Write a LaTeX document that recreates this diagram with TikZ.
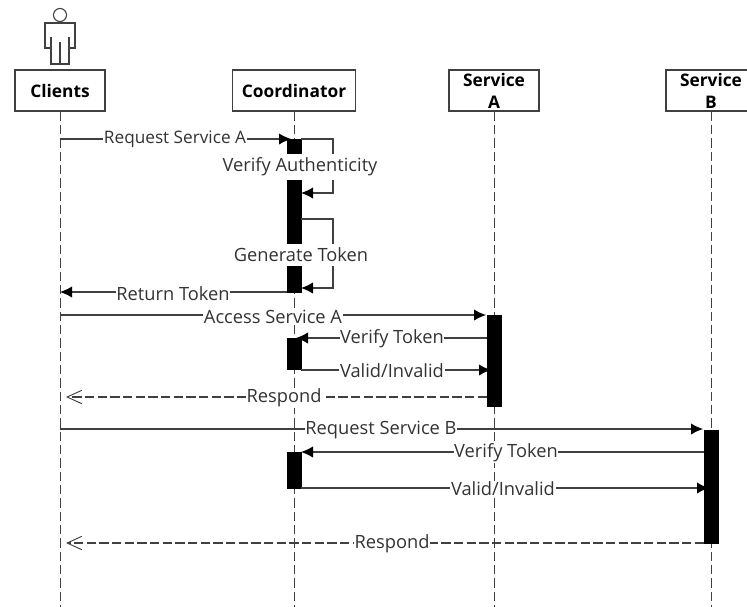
\documentclass[tikz,border=0pt]{standalone}
\usepackage{fontspec}
\setmainfont{Open Sans}
\usetikzlibrary{arrows.meta}
\tikzset{
	actor/.style = {draw = black!75, line width = 0.9pt, minimum width = 67.5pt, minimum height = 30.75pt, inner sep = 0pt, align = center, font = \fontsize{13}{16.5}\selectfont\bfseries, text = black},
	lifeline/.style = {draw = black!75, line width = 0.75pt, dash pattern = on 7pt off 3pt},
	actbar/.style = {fill = black, draw = black, line width = 0.3pt, minimum width = 10.5pt, inner sep = 0pt},
	msg/.style = {draw = black!75, line width = 0.9pt, -{Latex[length = 9pt, width = 8.5pt, black]}},
	reply/.style = {draw = black!75, line width = 0.85pt, dash pattern = on 7pt off 2.5pt, -{Straight Barb[length = 11pt, width = 10pt, line width = 0.7pt]}},
	msglabel/.style = {fill = white, inner xsep = 0.5pt, inner ysep = 0.5pt, text = black!80, font = \fontsize{13.7}{15}\selectfont}
}
\newcommand{\actorfigure}{\draw[draw = black!75, line width = 0.8pt] (60,15) circle (4.9pt);
					\draw[draw = black!75, line width = 0.8pt] (45,23) -- (75,23) -- (75,48) -- (69,48) -- (69,64) -- (51,64) -- (51,48) -- (45,48) -- cycle;
					\draw[draw = black!75, line width = 0.8pt] (51,37) -- (51,48);
					\draw[draw = black!75, line width = 0.8pt] (69,37) -- (69,48);
					\draw[draw = black!75, line width = 0.8pt] (60,42) -- (60,64);}

\begin{document}
\begin{tikzpicture}[x = 0.75pt, y = -0.75pt]

	\clip (0,0) rectangle (747,607);
	\fill[white] (0,0) rectangle (747,607);

	\actorfigure

	% actors
	\node[actor] (clients) at (60,90.5) {Clients};
	\node[actor, minimum width = 92pt] (coordinator) at (294,90.5) {Coordinator};
	\node[actor] (serviceA) at (494,90.5) {Service\\A};
	\node[actor] (serviceB) at (711,90.5) {Service\\B};

	\coordinate (clientsEnd) at (60,607);
	\coordinate (coordinatorEnd) at (294,607);
	\coordinate (serviceAEnd) at (494,607);
	\coordinate (serviceBEnd) at (711,607);

	\draw[lifeline] (clients.south) -- (clientsEnd);
	\draw[lifeline] (coordinator.south) -- (coordinatorEnd);
	\draw[lifeline] (serviceA.south) -- (serviceAEnd);
	\draw[lifeline] (serviceB.south) -- (serviceBEnd);

	% activation bars
	\node[actbar, minimum height = 114.75pt] (barCoordOne) at (294,215.5) {};
	\node[actbar, minimum height = 23.25pt] (barCoordTwo) at (294,353.5) {};
	\node[actbar, minimum height = 27pt] (barCoordThree) at (294,470) {};
	\node[actbar, minimum height = 68.25pt] (barA) at (494,360.5) {};
	\node[actbar, minimum height = 84.75pt] (barB) at (711,486.5) {};

	% end points
	\coordinate (reqAFrom) at (60,139);
	\coordinate (reqATo) at (291,139);
	\coordinate (verifyFrom) at (301,139);
	\coordinate (verifyKneeA) at (333,139);
	\coordinate (verifyKneeB) at (333,193);
	\coordinate (verifyTo) at (301,193);
	\coordinate (genFrom) at (301,219);
	\coordinate (genKneeA) at (333,219);
	\coordinate (genKneeB) at (333,288);
	\coordinate (genTo) at (301,288);
	\coordinate (returnFrom) at (287,292);
	\coordinate (returnTo) at (60,292);
	\coordinate (accessFrom) at (60,315);
	\coordinate (accessTo) at (486,315);
	\coordinate (verifyAFrom) at (487,338);
	\coordinate (verifyATo) at (296,338);
	\coordinate (validAFrom) at (301,370);
	\coordinate (validATo) at (491,370);
	\coordinate (respondAFrom) at (487,397);
	\coordinate (respondATo) at (66,397);
	\coordinate (reqBFrom) at (60,429);
	\coordinate (reqBTo) at (703,429);
	\coordinate (verifyBFrom) at (704,452);
	\coordinate (verifyBTo) at (301,452);
	\coordinate (validBFrom) at (301,488);
	\coordinate (validBTo) at (709,488);
	\coordinate (respondBFrom) at (704,543);
	\coordinate (respondBTo) at (66,543);

	% messages
	\draw[msg] (reqAFrom) -- (reqATo);
	\draw[msg] (verifyFrom) -- (verifyKneeA) -- (verifyKneeB) -- (verifyTo);
	\draw[msg] (genFrom) -- (genKneeA) -- (genKneeB) -- (genTo);
	\draw[msg] (returnFrom) -- (returnTo);
	\draw[msg] (accessFrom) -- (accessTo);
	\draw[msg] (verifyAFrom) -- (verifyATo);
	\draw[msg] (validAFrom) -- (validATo);
	\draw[reply] (respondAFrom) -- (respondATo);
	\draw[msg] (reqBFrom) -- (reqBTo);
	\draw[msg] (verifyBFrom) -- (verifyBTo);
	\draw[msg] (validBFrom) -- (validBTo);
	\draw[reply] (respondBFrom) -- (respondBTo);

	% labels
	\node[msglabel, font = \fontsize{12.9}{15}\selectfont] (reqALabel) at (175,139) {Request Service A};
	\node[msglabel, inner ysep = 3pt] (verifyLabel) at (300,167) {Verify Authenticity};
	\node[msglabel, inner ysep = 3pt] (genLabel) at (301,255) {Generate Token};
	\node[msglabel] (returnLabel) at (173,294) {Return Token};
	\node[msglabel] (accessLabel) at (273,317) {Access Service A};
	\node[msglabel] (verifyALabel) at (392,339) {Verify Token};
	\node[msglabel] (validALabel) at (392,371) {Valid/Invalid};
	\node[msglabel] (respondALabel) at (284,398) {Respond};
	\node[msglabel] (reqBLabel) at (381,430) {Request Service B};
	\node[msglabel] (verifyBLabel) at (506,453) {Verify Token};
	\node[msglabel] (validBLabel) at (503,489) {Valid/Invalid};
	\node[msglabel] (respondBLabel) at (392,544) {Respond};

\end{tikzpicture}
\end{document}
